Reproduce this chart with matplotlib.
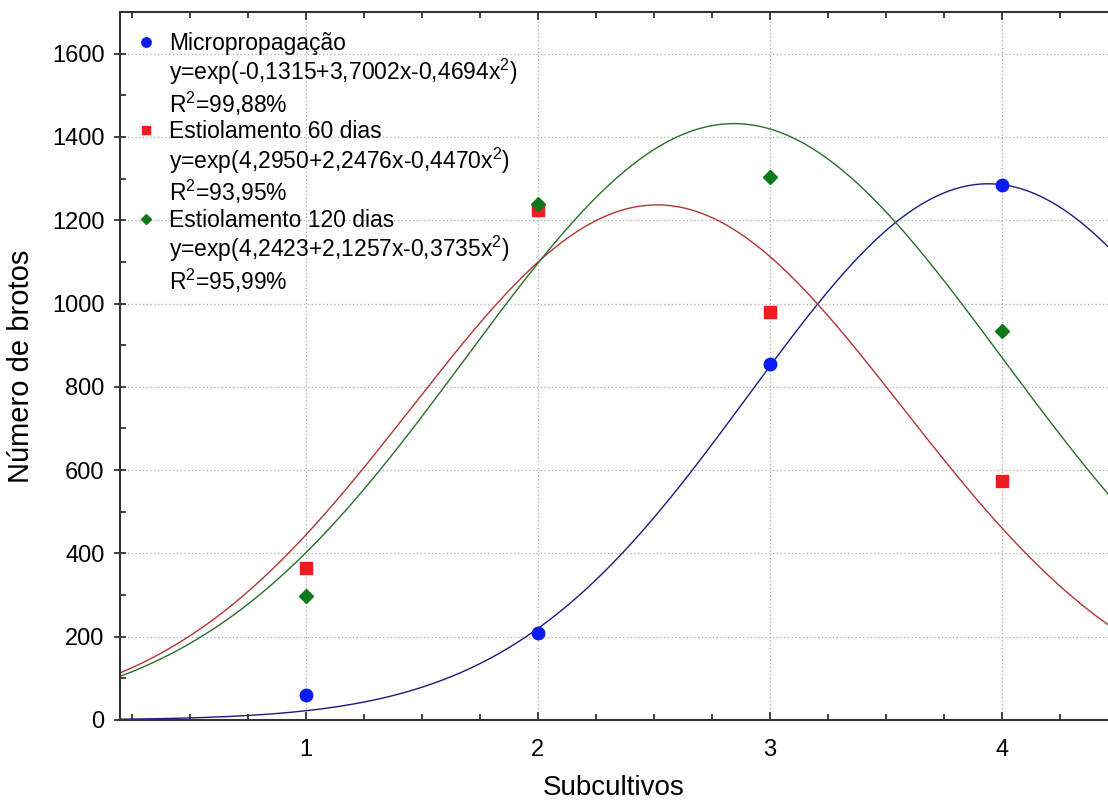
import numpy as np
import matplotlib
matplotlib.use("Agg")
import matplotlib.pyplot as plt
from matplotlib.lines import Line2D
from matplotlib.ticker import MultipleLocator

plt.rcParams['font.family'] = ['Liberation Sans', 'DejaVu Sans']
plt.rcParams['mathtext.fontset'] = 'custom'
plt.rcParams['mathtext.rm'] = 'Liberation Sans'

# data
subcultivos = [1, 2, 3, 4]
micro = [60, 210, 855, 1285]
est60 = [365, 1225, 980, 575]
est120 = [298, 1240, 1303, 935]

# fitted coefficients shown in the legend: y = exp(a + b x + c x^2)
coef_micro = [-0.1315, 3.7002, -0.4694]
coef_60 = [4.2950, 2.2476, -0.4470]
coef_120 = [4.2423, 2.1257, -0.3735]

names = ["Micropropagação", "Estiolamento 60 dias", "Estiolamento 120 dias"]
eqs = ["y=exp(-0,1315+3,7002x-0,4694x$\\mathregular{^2}$)",
       "y=exp(4,2950+2,2476x-0,4470x$\\mathregular{^2}$)",
       "y=exp(4,2423+2,1257x-0,3735x$\\mathregular{^2}$)"]
r2 = ["R$\\mathregular{^2}$=99,88%", "R$\\mathregular{^2}$=93,95%", "R$\\mathregular{^2}$=95,99%"]

fig = plt.figure(figsize=(11.08, 8.09), dpi=100)
ax = fig.add_axes([120/1108, 1-720/809, 988/1108, 708/809])

xs = np.linspace(0.2, 4.6, 400)
styles = [
    (micro, coef_micro, 'o', '#0a1cf0', '#1a1a80', 9),
    (est60, coef_60, 's', '#ee1c1c', '#b03535', 8.5),
    (est120, coef_120, 'D', '#11781a', '#2a6e2a', 7),
]
handles = []
labels = []
for i, (vals, c, mk, mc, lc, ms) in enumerate(styles):
    a, b, cc = c
    ax.plot(xs, np.exp(a + b*xs + cc*xs**2), color=lc, lw=1.0, zorder=2)
    ax.plot(subcultivos, vals, linestyle='none', marker=mk, ms=ms,
            color=mc, zorder=3)
    handles.append(Line2D([], [], linestyle='none', marker=mk, ms=ms*0.75, color=mc))
    labels.append(names[i])
    blank = Line2D([], [], linestyle='none', marker='none')
    handles += [blank, blank]
    labels += [eqs[i], r2[i]]

ax.set_xlim(0.2, 4.457)
ax.set_ylim(0, 1700)
ax.xaxis.set_major_locator(MultipleLocator(1))
ax.xaxis.set_minor_locator(MultipleLocator(0.25))
ax.yaxis.set_major_locator(MultipleLocator(200))
ax.yaxis.set_minor_locator(MultipleLocator(100))
ax.tick_params(axis='both', which='both', direction='in', top=True,
               labelsize=17, color='#222222', width=1.2)
ax.tick_params(axis='both', which='major', length=6)
ax.tick_params(axis='both', which='minor', length=4)
ax.tick_params(axis='y', which='major', direction='inout', length=8, pad=7)
ax.tick_params(axis='x', which='major', pad=14)
ax.spines['right'].set_visible(False)
for s in ['left', 'bottom', 'top']:
    ax.spines[s].set_linewidth(1.5)
    ax.spines[s].set_color('#333333')
ax.grid(True, which='major', linestyle=(0, (1, 2)), color='#aaaaaa', lw=0.9)
ax.set_axisbelow(True)

ax.set_xlabel("Subcultivos", fontsize=20, labelpad=10)
ax.set_ylabel("Número de brotos", fontsize=21, labelpad=12)

leg = ax.legend(handles, labels, loc='upper left', frameon=False, fontsize=16.5,
                handlelength=0.8, handletextpad=0.6, labelspacing=0.1,
                borderaxespad=0, borderpad=0,
                bbox_to_anchor=(17/988, 1 - 20/708))

fig.savefig("out.png", dpi=100)
